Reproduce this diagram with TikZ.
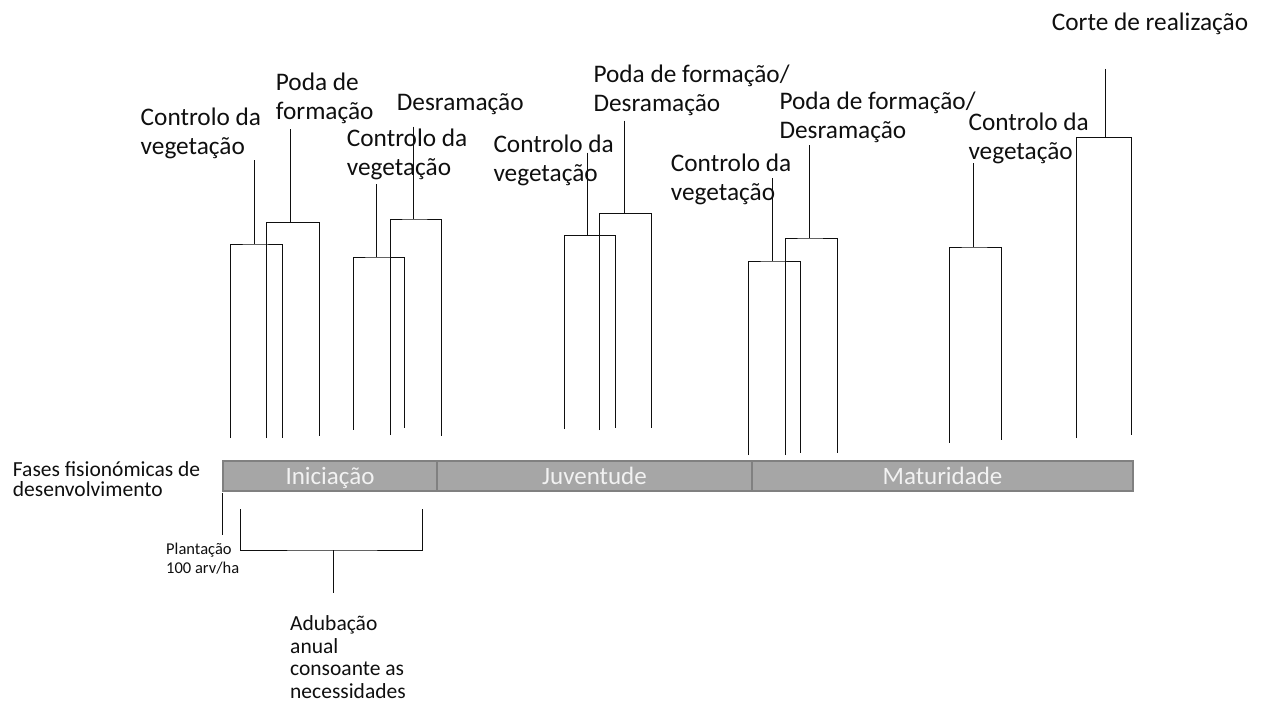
\documentclass[tikz,border=0pt]{standalone}
\usepackage{fontspec}
\setmainfont{Carlito}
\newcommand\topln{\rule{0pt}{20pt}}
\newcommand\mkfork[8]{%
  \coordinate (#1t) at (#3,#5);
  \coordinate (#1j) at (#3,#6);
  \coordinate (#1l) at (#2,#7);
  \coordinate (#1r) at (#4,#8);
  \draw[ln] (#1t) -- (#1j);
  \draw[ln] (#1l) |- (#1j) -| (#1r);
}
\definecolor{barfill}{RGB}{166,166,166}
\definecolor{barline}{RGB}{128,128,128}
\definecolor{bartext}{RGB}{242,242,242}
\definecolor{ink}{RGB}{15,15,15}
\tikzset{
  ln/.style={draw=ink, line width=0.95pt},
  lbl/.style={anchor=north west, inner sep=0pt, align=left, text=ink,
    font=\fontsize{25.3}{29}\selectfont},
  midlbl/.style={anchor=north west, inner sep=0pt, align=left, text=ink,
    font=\fontsize{21.5}{22.5}\selectfont},
  phase/.style={draw=barline, line width=2pt, fill=barfill, text=bartext,
    inner sep=0pt, minimum height=30pt, text height=23pt, text depth=6pt,
    font=\fontsize{25}{30}\selectfont},
}
\begin{document}
\begin{tikzpicture}[x=1pt, y=-1pt]
\useasboundingbox (0,0) rectangle (1265,706);

% labels
\node[lbl] (g1) at (140.5,105)  {\topln Controlo da\\vegetação};
\node[lbl] (g2) at (275.7,70.7) {\topln Poda de\\formação};
\node[lbl] (g3) at (346.7,126.7){\topln Controlo da\\vegetação};
\node[lbl] (g4) at (396.7,90.7) {\topln Desramação};
\node[lbl] (g5) at (493.3,132.3){\topln Controlo da\\vegetação};
\node[lbl] (g6) at (593.3,62.7) {\topln Poda de formação/\\Desramação};
\node[lbl] (g7) at (670.7,151.7){\topln Controlo da\\vegetação};
\node[lbl] (g8) at (779.3,89.3) {\topln Poda de formação/\\Desramação};
\node[lbl] (g9) at (968.3,110)  {\topln Controlo da\\vegetação};
\node[lbl] (g10) at (1051.7,10) {\topln Corte de realização};

% forks
\mkfork{a}{230}{254.3}{282.3}{160}{244}{438}{438}
\mkfork{b}{266.7}{290.7}{319}{129}{222.3}{438}{436}
\mkfork{c}{353.3}{376.7}{404}{184}{257}{429.5}{427.7}
\mkfork{d}{390}{413.3}{441.7}{126.7}{219}{435}{436}
\mkfork{e}{564}{587.3}{615.7}{152.7}{235.7}{429}{428}
\mkfork{f}{599.3}{624}{651.7}{120.7}{213.3}{430}{428}
\mkfork{g}{748.3}{772.7}{800.7}{178}{261}{455}{453}
\mkfork{h}{785.3}{809}{837.7}{145}{238}{455}{453}
\mkfork{i}{949.3}{973.3}{1001.7}{163.3}{247}{442.7}{440}
\mkfork{k}{1076}{1105.7}{1131}{69}{137.3}{438}{435}

% phase bar
\node[phase, minimum width=214pt] (ini) at (330,475.7) {Iniciação};
\node[phase, minimum width=315pt] (juv) at (594.5,475.7) {Juventude};
\node[phase, minimum width=381pt] (mat) at (942.5,475.7) {Maturidade};

\node[anchor=north west, inner sep=0pt, align=left, text=ink,
  font=\fontsize{21.5}{20}\selectfont] (fases) at (12.7,456)
  {\topln Fases fisionómicas de\\desenvolvimento};

% plantation
\coordinate (p1) at (222.7,493);
\coordinate (p2) at (222.7,535);
\draw[ln] (p1) -- (p2);
\node[anchor=north west, inner sep=0pt, align=left, text=ink,
  font=\fontsize{16.5}{18.7}\selectfont] (plant) at (166,540.7)
  {\rule{0pt}{14pt}Plantação\\100 arv/ha};

% fertilisation bracket
\coordinate (b1) at (240,509);
\coordinate (b2) at (422,509);
\coordinate (bm) at (333,550);
\coordinate (bs) at (333,593);
\draw[ln] (b1) |- (bm) -| (b2);
\draw[ln] (bm) -- (bs);
\node[midlbl] (adu) at (290,610.7)
  {\topln Adubação\\anual\\consoante as\\necessidades};
\end{tikzpicture}
\end{document}
